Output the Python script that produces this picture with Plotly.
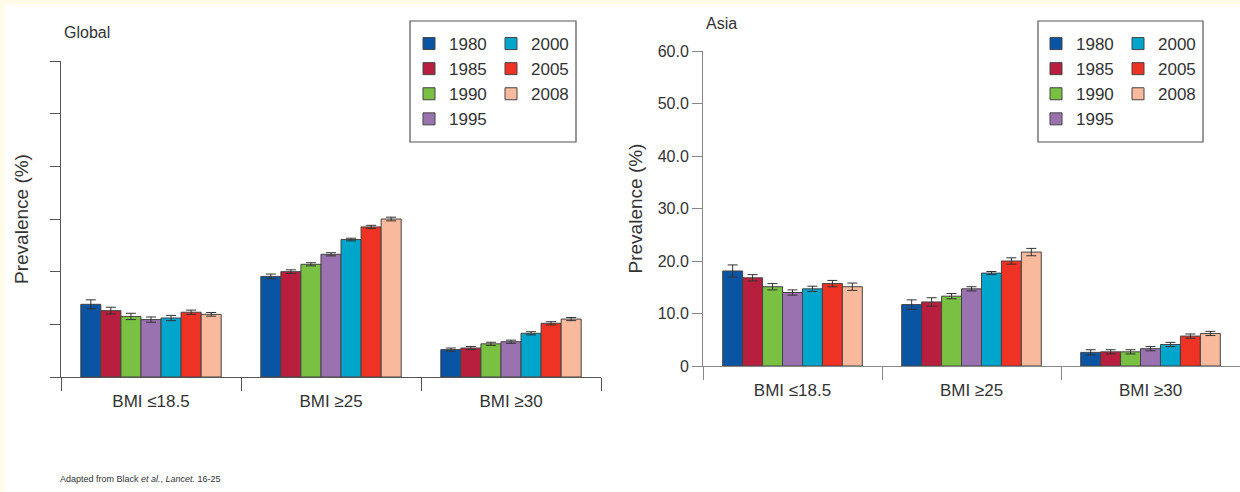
import plotly.graph_objects as go

W, H = 1240, 492

categories = ["BMI ≤18.5", "BMI ≥25", "BMI ≥30"]
years = ["1980", "1985", "1990", "1995", "2000", "2005", "2008"]
colors = ["#0a55a3", "#b81e3d", "#7ac143", "#9a72b0", "#00a5cc", "#ee3224", "#f9b99c"]

# Global prevalence (%) per year: [BMI<=18.5, BMI>=25, BMI>=30]
global_vals = {
    "1980": [13.8, 19.1, 5.2],
    "1985": [12.6, 20.0, 5.5],
    "1990": [11.5, 21.4, 6.3],
    "1995": [10.9, 23.3, 6.7],
    "2000": [11.2, 26.1, 8.3],
    "2005": [12.3, 28.5, 10.2],
    "2008": [11.9, 30.0, 11.0],
}
global_err = {
    "1980": [0.85, 0.45, 0.3],
    "1985": [0.65, 0.35, 0.3],
    "1990": [0.6, 0.3, 0.3],
    "1995": [0.5, 0.3, 0.3],
    "2000": [0.5, 0.25, 0.3],
    "2005": [0.4, 0.3, 0.3],
    "2008": [0.35, 0.35, 0.3],
}
# Asia prevalence (%)
asia_vals = {
    "1980": [18.1, 11.7, 2.6],
    "1985": [16.8, 12.2, 2.7],
    "1990": [15.1, 13.3, 2.7],
    "1995": [14.0, 14.7, 3.3],
    "2000": [14.7, 17.7, 4.1],
    "2005": [15.7, 20.0, 5.7],
    "2008": [15.1, 21.7, 6.2],
}
asia_err = {
    "1980": [1.15, 0.9, 0.5],
    "1985": [0.6, 0.8, 0.4],
    "1990": [0.6, 0.5, 0.4],
    "1995": [0.5, 0.4, 0.4],
    "2000": [0.5, 0.3, 0.4],
    "2005": [0.6, 0.6, 0.4],
    "2008": [0.7, 0.7, 0.4],
}
y_ticks = [0, 10, 20, 30, 40, 50, 60]
y_ticktext = ["0", "10.0", "20.0", "30.0", "40.0", "50.0", "60.0"]

# legend column placement: first four years in column 1, rest in column 2
col1 = years[:4]

FONT = "Liberation Sans, Arial, sans-serif"
TXT = "#333333"

fig = go.Figure()

for i, yr in enumerate(years):
    fig.add_trace(go.Bar(
        x=categories, y=global_vals[yr], name=yr,
        marker=dict(color=colors[i], line=dict(color="#444444", width=1)),
        error_y=dict(type="data", array=global_err[yr], color="#333333", thickness=1, width=5),
        xaxis="x", yaxis="y",
        legend="legend" if yr in col1 else "legend2",
    ))
for i, yr in enumerate(years):
    fig.add_trace(go.Bar(
        x=categories, y=asia_vals[yr], name=yr,
        marker=dict(color=colors[i], line=dict(color="#444444", width=1)),
        error_y=dict(type="data", array=asia_err[yr], color="#333333", thickness=1, width=5),
        xaxis="x2", yaxis="y2",
        legend="legend3" if yr in col1 else "legend4",
    ))

def px_x(p):
    return p / W

def px_y(p):
    return (H - p) / H

leg_common = dict(
    bgcolor="rgba(0,0,0,0)", borderwidth=0, orientation="v",
    font=dict(family=FONT, size=17, color=TXT),
    xanchor="left", yanchor="top", y=px_y(26),
)

fig.update_layout(
    width=W, height=H,
    margin=dict(l=0, r=0, t=0, b=0, pad=0, autoexpand=False),
    paper_bgcolor="white", plot_bgcolor="white",
    barmode="group", bargap=0.22, bargroupgap=0,
    font=dict(family=FONT, color=TXT),
    xaxis=dict(
        domain=[px_x(61), px_x(601)], anchor="y", type="category",
        range=[-0.5, 2.5], showline=True, linecolor="#555555", linewidth=1,
        ticks="outside", tickson="boundaries", ticklen=13, tickcolor="#555555",
        ticklabelstandoff=9,
        tickfont=dict(family=FONT, size=17, color=TXT), showgrid=False, zeroline=False,
        automargin=False,
    ),
    yaxis=dict(
        domain=[px_y(377), px_y(61)], anchor="x", range=[0, 60],
        tickvals=y_ticks, showticklabels=False, ticks="outside", ticklen=10,
        tickcolor="#555555", showline=True, linecolor="#555555", linewidth=1,
        showgrid=False, zeroline=False, automargin=False,
        title=dict(text="Prevalence (%)", font=dict(family=FONT, size=19, color=TXT), standoff=16),
    ),
    xaxis2=dict(
        domain=[px_x(703), 1.0], anchor="y2", type="category",
        range=[-0.5, 2.5], showline=True, linecolor="#888888", linewidth=1,
        ticks="outside", tickson="boundaries", ticklen=13, tickcolor="#888888",
        ticklabelstandoff=9,
        tickfont=dict(family=FONT, size=17, color=TXT), showgrid=False, zeroline=False,
        automargin=False,
    ),
    yaxis2=dict(
        domain=[px_y(366), px_y(51)], anchor="x2", range=[0, 60],
        tickvals=y_ticks, ticktext=y_ticktext, ticks="outside", ticklen=10,
        tickcolor="#888888", showline=True, linecolor="#888888", linewidth=1,
        tickfont=dict(family=FONT, size=16, color=TXT),
        showgrid=False, zeroline=False, automargin=False,
        title=dict(text="Prevalence (%)", font=dict(family=FONT, size=19, color=TXT), standoff=10),
    ),
    legend=dict(x=px_x(409), **leg_common),
    legend2=dict(x=px_x(491), **leg_common),
    legend3=dict(x=px_x(1036), **leg_common),
    legend4=dict(x=px_x(1118), **leg_common),
    shapes=[
        # cream page border strips
        dict(type="rect", xref="paper", yref="paper", x0=0, x1=1, y0=px_y(4), y1=1,
             fillcolor="#fffbe6", line=dict(width=0), layer="below"),
        dict(type="rect", xref="paper", yref="paper", x0=0, x1=px_x(4), y0=0, y1=1,
             fillcolor="#fffbe6", line=dict(width=0), layer="below"),
        # legend frames
        dict(type="rect", xref="paper", yref="paper", x0=px_x(410), x1=px_x(576),
             y0=px_y(142), y1=px_y(21), line=dict(color="#555555", width=1.2)),
        dict(type="rect", xref="paper", yref="paper", x0=px_x(1038), x1=px_x(1203),
             y0=px_y(142), y1=px_y(21), line=dict(color="#555555", width=1.2)),
    ],
    annotations=[
        dict(text="Global", xref="paper", yref="paper", x=px_x(62), y=px_y(32),
             xanchor="left", yanchor="middle", showarrow=False,
             font=dict(family=FONT, size=16, color=TXT)),
        dict(text="Asia", xref="paper", yref="paper", x=px_x(704), y=px_y(23),
             xanchor="left", yanchor="middle", showarrow=False,
             font=dict(family=FONT, size=16, color=TXT)),
        dict(text="Adapted from Black <i>et al.</i>, <i>Lancet.</i> 16-25",
             xref="paper", yref="paper", x=px_x(58), y=px_y(479),
             xanchor="left", yanchor="middle", showarrow=False,
             font=dict(family=FONT, size=9, color=TXT)),
    ],
)

fig.write_html(
    "out.html",
    config={"displayModeBar": False, "responsive": False},
    post_script="document.body.style.margin='0';document.body.style.overflow='hidden';",
)
